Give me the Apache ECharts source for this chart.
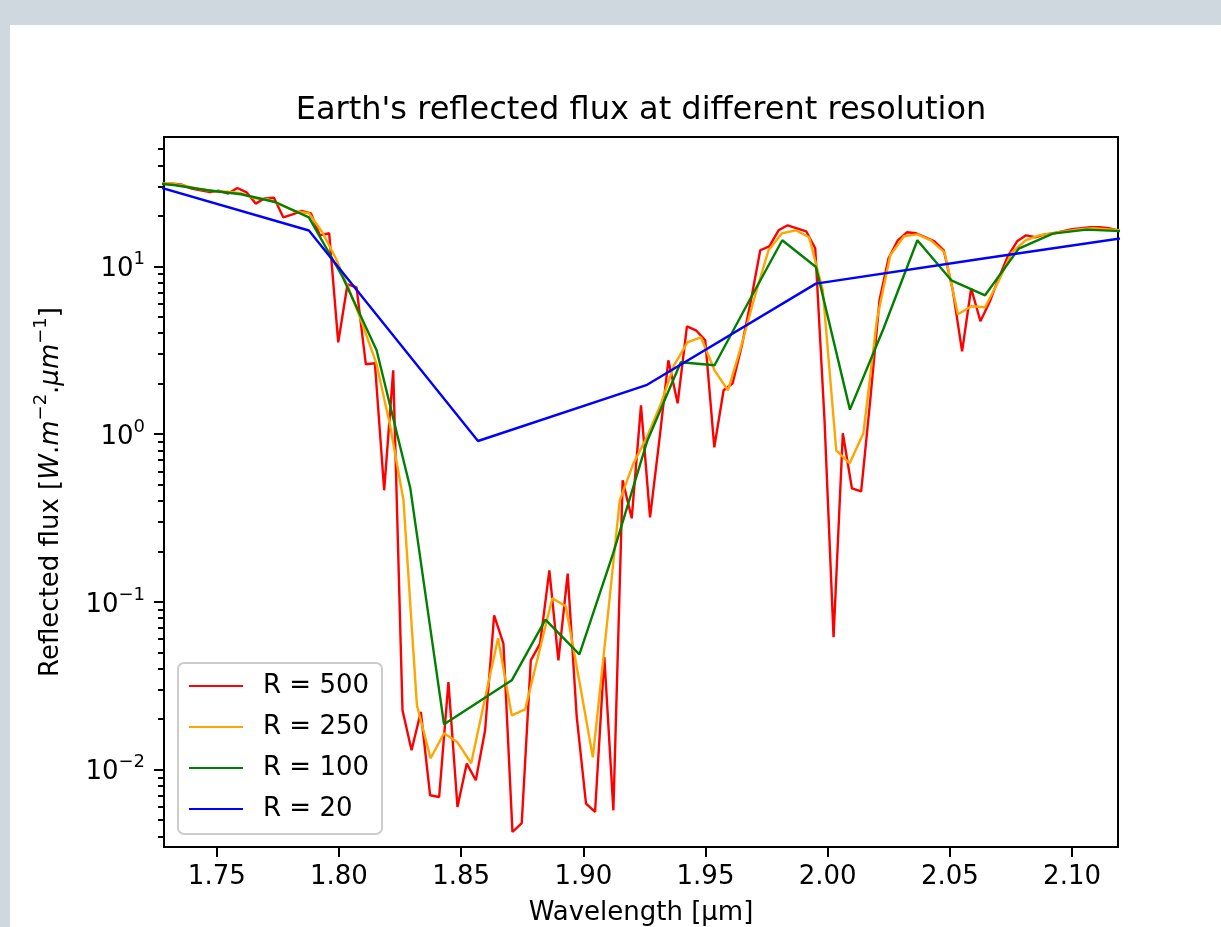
<!DOCTYPE html>
<html>
<head>
<meta charset="utf-8">
<title>Earth's reflected flux at different resolution</title>
<script src="https://cdn.jsdelivr.net/npm/echarts@6/dist/echarts.min.js"></script>
<style>
    html, body { margin: 0; padding: 0; width: 1221px; height: 927px; overflow: hidden; background: #cfd7df; }
    #painel { position: absolute; left: 10px; top: 25px; right: 0; bottom: 0; background: #ffffff; }
    #estrutura { position: absolute; left: 0; top: 0; width: 1221px; height: 927px; }
</style>
</head>
<body>
<div id="painel"></div>
<div id="estrutura"></div>
<script>
// wavelength [um] / reflected flux for each resolution
var wl500 = [
    1.7284, 1.7322, 1.7359, 1.7397, 1.7434, 1.7472, 1.7509, 1.7547, 1.7584, 1.7622,
    1.7659, 1.7697, 1.7734, 1.7772, 1.7810, 1.7847, 1.7885, 1.7922, 1.7960, 1.7997,
    1.8035, 1.8072, 1.8110, 1.8147, 1.8185, 1.8222, 1.8260, 1.8297, 1.8335, 1.8373,
    1.8410, 1.8448, 1.8485, 1.8523, 1.8560, 1.8598, 1.8635, 1.8673, 1.8710, 1.8748,
    1.8785, 1.8823, 1.8861, 1.8898, 1.8936, 1.8973, 1.9011, 1.9048, 1.9086, 1.9123,
    1.9161, 1.9198, 1.9236, 1.9273, 1.9311, 1.9348, 1.9386, 1.9424, 1.9461, 1.9499,
    1.9536, 1.9574, 1.9611, 1.9649, 1.9686, 1.9724, 1.9761, 1.9799, 1.9836, 1.9874,
    1.9912, 1.9949, 1.9987, 2.0024, 2.0062, 2.0099, 2.0137, 2.0174, 2.0212, 2.0249,
    2.0287, 2.0324, 2.0362, 2.0400, 2.0437, 2.0475, 2.0512, 2.0550, 2.0587, 2.0625,
    2.0662, 2.0700, 2.0737, 2.0775, 2.0812, 2.0850, 2.0888, 2.0925, 2.0963, 2.1000,
    2.1038, 2.1075, 2.1113, 2.1150, 2.1188
];
var flux500 = [
    31.1, 31.1, 30.6, 29.05, 28.38, 27.72, 28.18, 27.13, 29.29, 27.61,
    23.64, 25.42, 25.60, 19.59, 20.41, 21.42, 20.70, 15.30, 15.73, 3.524,
    7.810, 7.496, 2.606, 2.642, 0.4623, 2.399, 0.02258, 0.01303, 0.02205, 0.007029,
    0.006866, 0.03329, 0.005985, 0.01086, 0.008636, 0.01716, 0.08314, 0.05636, 0.004247, 0.004804,
    0.04482, 0.05636, 0.1542, 0.04482, 0.1474, 0.02059, 0.006272, 0.005590, 0.04690, 0.005720,
    0.5303, 0.3148, 1.484, 0.3191, 0.9180, 2.753, 1.525, 4.389, 4.155, 3.622,
    0.8338, 1.823, 2.007, 3.382, 6.271, 12.46, 13.16, 16.39, 17.55, 16.85,
    16.17, 12.81, 1.208, 0.06145, 1.011, 0.4751, 0.4559, 1.590, 6.271, 11.16,
    14.29, 15.95, 15.73, 14.89, 14.09, 12.46, 7.193, 3.113, 7.394, 4.701,
    6.102, 8.483, 11.47, 14.09, 15.30, 14.89, 15.51, 15.73, 16.17, 16.62,
    16.85, 17.08, 17.08, 16.85, 16.39
];

var wl250 = [
    1.7268, 1.7323, 1.7379, 1.7434, 1.7489, 1.7545, 1.7600, 1.7655, 1.7711, 1.7766,
    1.7821, 1.7877, 1.7932, 1.7987, 1.8043, 1.8098, 1.8153, 1.8209, 1.8264, 1.8319,
    1.8375, 1.8430, 1.8485, 1.8541, 1.8596, 1.8651, 1.8707, 1.8762, 1.8817, 1.8873,
    1.8928, 1.8983, 1.9039, 1.9094, 1.9149, 1.9205, 1.9260, 1.9315, 1.9371, 1.9426,
    1.9481, 1.9537, 1.9592, 1.9647, 1.9703, 1.9758, 1.9813, 1.9869, 1.9924, 1.9980,
    2.0035, 2.0090, 2.0146, 2.0201, 2.0256, 2.0312, 2.0367, 2.0422, 2.0478, 2.0533,
    2.0588, 2.0644, 2.0699, 2.0754, 2.0810, 2.0865, 2.0920, 2.0976, 2.1031, 2.1086,
    2.1142, 2.1197
];
var flux250 = [
    31.24, 31.02, 29.98, 28.77, 27.99, 27.80, 27.23, 25.42, 25.08, 23.10,
    21.27, 20.70, 15.95, 11.16, 7.193, 4.450, 2.642, 1.128, 0.4029, 0.02417,
    0.01168, 0.01646, 0.01455, 0.01091, 0.02589, 0.06062, 0.02107, 0.02288, 0.04868, 0.1050,
    0.09406, 0.03407, 0.01184, 0.06767, 0.4029, 0.6693, 0.9566, 1.484, 2.570, 3.524,
    3.774, 2.399, 1.823, 3.382, 6.716, 12.46, 15.73, 16.39, 14.89, 7.193,
    0.8003, 0.6693, 1.011, 4.766, 11.63, 15.10, 15.51, 14.29, 12.12, 5.176,
    5.774, 5.695, 8.141, 12.12, 14.29, 15.30, 15.73, 16.17, 16.62, 16.85,
    16.62, 16.39
];

var wl100 = [
    1.7185, 1.7324, 1.7462, 1.7600, 1.7739, 1.7877, 1.8015, 1.8154, 1.8292, 1.8430,
    1.8569, 1.8707, 1.8845, 1.8984, 1.9122, 1.9261, 1.9399, 1.9537, 1.9676, 1.9814,
    1.9952, 2.0091, 2.0229, 2.0367, 2.0506, 2.0644, 2.0782, 2.0921, 2.1059, 2.1198
];
var flux100 = [
    31.67, 30.52, 28.38, 26.87, 24.17, 19.59, 8.636, 3.157, 0.4751, 0.01862,
    0.02519, 0.03407, 0.07834, 0.04868, 0.1947, 0.9056, 2.678, 2.570, 6.127, 14.29,
    9.904, 1.399, 4.270, 14.29, 8.254, 6.716, 12.75, 15.66, 16.55, 16.21
];

var wl20 = [1.7185, 1.7877, 1.8569, 1.9261, 1.9952, 2.0644, 2.1336];
var flux20 = [31.98, 16.34, 0.9093, 1.966, 7.886, 11.16, 15.71];

var xTicks = [1.75, 1.80, 1.85, 1.90, 1.95, 2.00, 2.05, 2.10];
var yTicks = [0.01, 0.1, 1, 10];
var yMinorTicks = [
    0.004, 0.005, 0.006, 0.007, 0.008, 0.009,
    0.02, 0.03, 0.04, 0.05, 0.06, 0.07, 0.08, 0.09,
    0.2, 0.3, 0.4, 0.5, 0.6, 0.7, 0.8, 0.9,
    2, 3, 4, 5, 6, 7, 8, 9,
    20, 30, 40, 50
];

var fonte = 'DejaVu Sans';

function serie(nome, wl, flux, cor) {
    return {
        name: nome,
        type: 'line',
        data: wl.map(function (w, i) { return [w, flux[i]]; }),
        symbol: 'none',
        clip: true,
        lineStyle: { color: cor, width: 2.4 },
        itemStyle: { color: cor }
    };
}

function potencia(v) {
    var e = Math.round(Math.log10(v));
    var txt = e < 0 ? '\u2212' + (-e) : '' + e;
    return '{b|10}{s|' + txt + '}';
}

function CriaGrafico() {
    var chartDom = document.getElementById('estrutura');
    var myChart = echarts.init(chartDom, null, { renderer: 'canvas' });

    var preto = { color: '#000', width: 2 };

    var option = {
        animation: false,
        backgroundColor: 'transparent',
        textStyle: { fontFamily: fonte, color: '#000' },
        title: {
            text: "Earth's reflected flux at different resolution",
            left: 641,
            top: 95,
            textAlign: 'center',
            padding: 0,
            textStyle: { fontFamily: fonte, fontSize: 32, fontWeight: 'normal', color: '#000' }
        },
        grid: {
            left: 164, top: 137, width: 954, height: 710,
            show: true, borderColor: '#000', borderWidth: 2,
            backgroundColor: 'transparent',
            containLabel: false,
            outerBoundsMode: 'none'
        },
        legend: {
            orient: 'vertical',
            left: 178,
            top: 663,
            padding: [10, 13, 12, 10],
            itemGap: 15,
            itemWidth: 54,
            itemHeight: 14,
            itemStyle: { opacity: 0 },
            backgroundColor: 'rgba(255,255,255,0.8)',
            borderColor: '#cccccc',
            borderWidth: 2,
            borderRadius: 6,
            textStyle: { fontFamily: fonte, fontSize: 26, color: '#000', padding: [0, 0, 0, 15] },
            data: ['R = 500', 'R = 250', 'R = 100', 'R = 20']
        },
        xAxis: {
            type: 'value',
            min: 1.7284,
            max: 2.1188,
            axisLine: { show: false },
            splitLine: { show: false },
            axisTick: { customValues: xTicks, length: 10, lineStyle: preto },
            axisLabel: {
                customValues: xTicks,
                fontSize: 26,
                color: '#000',
                margin: 17,
                formatter: function (v) { return v.toFixed(2); }
            },
            name: 'Wavelength [\u00b5m]',
            nameLocation: 'middle',
            nameGap: 53,
            nameTextStyle: { fontFamily: fonte, fontSize: 26, color: '#000' }
        },
        yAxis: [
            {
                type: 'log',
                logBase: 10,
                min: 0.003457,
                max: 58.98,
                position: 'left',
                axisLine: { show: false },
                splitLine: { show: false },
                minorTick: { show: false },
                axisTick: { customValues: yTicks, length: 10, lineStyle: preto },
                axisLabel: {
                    customValues: yTicks,
                    margin: 19,
                    formatter: potencia,
                    rich: {
                        b: { fontFamily: fonte, fontSize: 26, color: '#000', padding: [6, 0, 0, 0] },
                        s: { fontFamily: fonte, fontSize: 18, color: '#000', verticalAlign: 'top' }
                    }
                },
                name: '{n|Reflected flux [}{i|W}{n|.}{i|m}{s|\u22122}{n|.}{i|\u03bcm}{s|\u22121}{n|]}',
                nameLocation: 'middle',
                nameRotate: 90,
                nameGap: 100,
                nameTextStyle: {
                    color: '#000',
                    rich: {
                        n: { fontFamily: fonte, fontSize: 26, color: '#000', padding: [6, 0, 0, 0] },
                        i: { fontFamily: fonte, fontSize: 26, fontStyle: 'italic', color: '#000', padding: [6, 0, 0, 0] },
                        s: { fontFamily: fonte, fontSize: 18, color: '#000', verticalAlign: 'top' }
                    }
                }
            },
            {
                // minor ticks of the log axis
                type: 'log',
                logBase: 10,
                min: 0.003457,
                max: 58.98,
                position: 'left',
                axisLine: { show: false },
                splitLine: { show: false },
                axisLabel: { show: false },
                axisTick: { customValues: yMinorTicks, length: 6, lineStyle: preto }
            }
        ],
        series: [
            serie('R = 500', wl500, flux500, '#ff0000'),
            serie('R = 250', wl250, flux250, '#ffa500'),
            serie('R = 100', wl100, flux100, '#008000'),
            serie('R = 20', wl20, flux20, '#0000ff')
        ]
    };

    option && myChart.setOption(option);
}

CriaGrafico();
</script>
</body>
</html>
